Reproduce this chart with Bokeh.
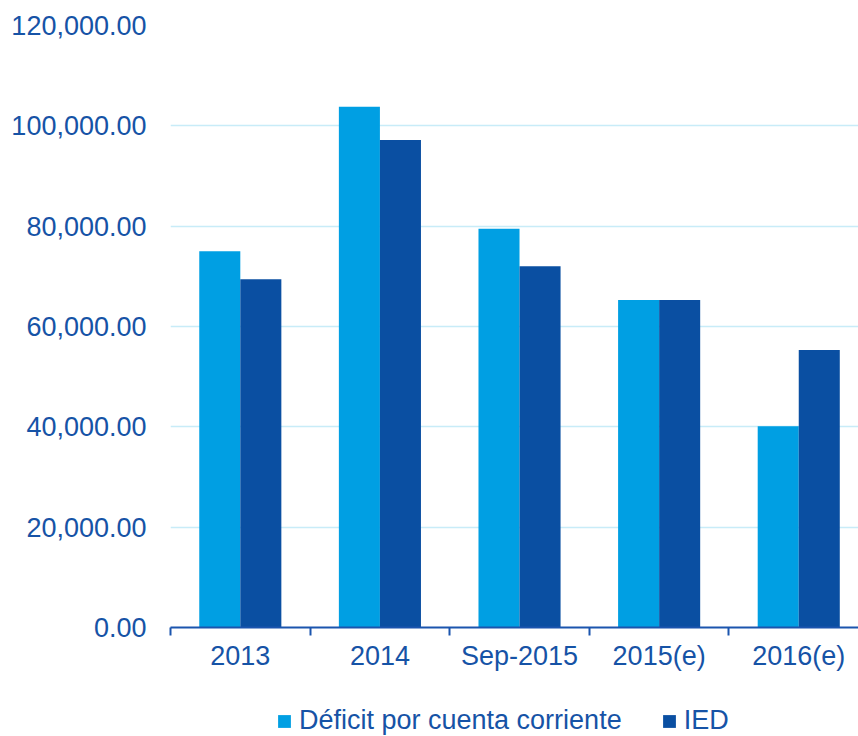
from bokeh.plotting import figure
from bokeh.layouts import column
from bokeh.models import (FixedTicker, NumeralTickFormatter, Legend, LegendItem,
                          Range1d, ColumnDataSource)
from bokeh.embed import file_html
from bokeh.resources import INLINE
import numpy as np

categories = ["2013", "2014", "Sep-2015", "2015(e)", "2016(e)"]
deficit = [75000, 103800, 79500, 65300, 40100]
ied = [69400, 97200, 72000, 65300, 55300]
y_ticks = [0, 20000, 40000, 60000, 80000, 100000, 120000]
series_names = ["Déficit por cuenta corriente", "IED"]

C_DEF = "#009FE3"
C_IED = "#0A4FA2"
C_TEXT = "#1653A6"
C_AXIS = "#1B55AE"
C_GRID = "#C8ECF8"
FONT = "Liberation Sans"
FS = "27px"

n = len(categories)
centers = np.arange(n) + 0.5
bw = 0.294

src = ColumnDataSource(dict(
    x_def=centers - bw / 2, x_ied=centers + bw / 2,
    deficit=deficit, ied=ied,
))

p = figure(width=858, height=680, output_backend="svg", toolbar_location=None,
           x_range=Range1d(0, 4.928), y_range=Range1d(0, 120000),
           min_border_left=170, min_border_right=0, min_border_top=25,
           min_border_bottom=53)
p.outline_line_color = None
p.background_fill_color = "white"
p.border_fill_color = "white"

r1 = p.vbar(x="x_def", top="deficit", width=bw, source=src,
            fill_color=C_DEF, line_color=None)
r2 = p.vbar(x="x_ied", top="ied", width=bw, source=src,
            fill_color=C_IED, line_color=None)

# x axis
xa = p.xaxis[0]
xa.ticker = FixedTicker(ticks=list(centers), minor_ticks=list(range(n + 1)))
xa.major_label_overrides = {float(c): lab for c, lab in zip(centers, categories)}
xa.major_tick_out = 0
xa.major_tick_in = 0
xa.minor_tick_out = 8
xa.minor_tick_in = 0
xa.minor_tick_line_color = C_AXIS
xa.minor_tick_line_width = 2
xa.axis_line_color = C_AXIS
xa.axis_line_width = 2
xa.major_label_text_font = FONT
xa.major_label_text_font_size = FS
xa.major_label_text_color = C_TEXT
xa.major_label_standoff = 5

# y axis
ya = p.yaxis[0]
ya.ticker = FixedTicker(ticks=y_ticks)
ya.formatter = NumeralTickFormatter(format="0,0.00")
ya.axis_line_color = None
ya.major_tick_line_color = None
ya.major_tick_out = 0
ya.major_tick_in = 0
ya.minor_tick_line_color = None
ya.major_label_text_font = FONT
ya.major_label_text_font_size = FS
ya.major_label_text_color = C_TEXT
ya.major_label_standoff = 24

p.xgrid.grid_line_color = None
p.ygrid.ticker = FixedTicker(ticks=y_ticks[1:])
p.ygrid.grid_line_color = C_GRID
p.ygrid.grid_line_width = 1.5

# legend strip below the chart (its own ranges keep the bars out of view)
pl = figure(width=858, height=56, output_backend="svg", toolbar_location=None,
            x_range=Range1d(-101, -100), y_range=Range1d(-2, -1),
            x_axis_type=None, y_axis_type=None,
            min_border_left=0, min_border_right=0, min_border_top=0,
            min_border_bottom=0)
pl.outline_line_color = None
pl.xgrid.grid_line_color = None
pl.ygrid.grid_line_color = None
l1 = pl.vbar(x="x_def", top="deficit", width=bw, source=src,
             fill_color=C_DEF, line_color=None)
l2 = pl.vbar(x="x_ied", top="ied", width=bw, source=src,
             fill_color=C_IED, line_color=None)

legend = Legend(items=[LegendItem(label=series_names[0], renderers=[l1]),
                       LegendItem(label=series_names[1], renderers=[l2])],
                orientation="horizontal", location=(106, 0),
                glyph_width=16, glyph_height=16, label_standoff=7, spacing=39,
                label_text_font=FONT, label_text_font_size=FS,
                label_text_color=C_TEXT, border_line_color=None,
                background_fill_alpha=0, padding=0, margin=0)
pl.add_layout(legend, "center")

layout = column(p, pl, spacing=0)
open("out.html", "w").write(file_html(layout, INLINE))
